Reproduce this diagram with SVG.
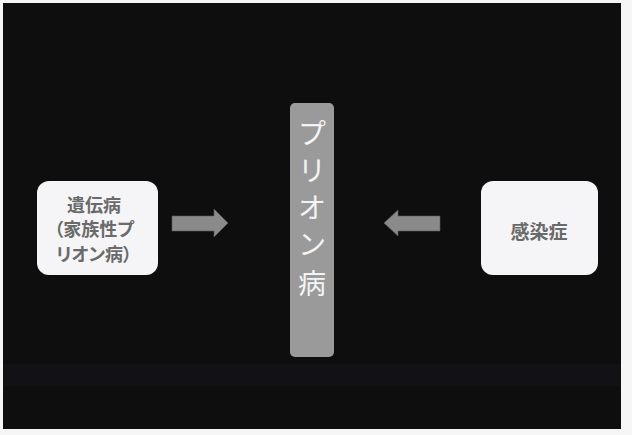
<svg xmlns="http://www.w3.org/2000/svg" width="632" height="435" viewBox="0 0 632 435">
  <style>
    .box { fill: #f5f5f7; }
    .boxtext { font-family: "Noto Sans CJK JP", "Noto Sans", sans-serif; font-size: 18px; font-weight: bold; fill: #6a6a6a; text-anchor: middle; font-feature-settings: "palt"; }
    .bar { fill: #9a9a9a; }
    .bartext { font-family: "Noto Sans CJK JP", "Noto Sans", sans-serif; font-size: 28px; fill: #f4f4f4; text-anchor: middle; }
    .arrow { fill: #8a8a8a; stroke: #5a5a5a; stroke-width: 0.6; }
  </style>
  <rect x="0" y="0" width="632" height="435" fill="#f6f6f6"/>
  <rect x="3" y="3" width="618" height="426" fill="#0e0e0f"/>
  <rect x="3" y="364" width="618" height="22" fill="#15151d" opacity="0.5"/>

  <g id="node-heredity">
    <rect class="box" x="37" y="181" width="121" height="94" rx="12" ry="12"/>
    <text class="boxtext" x="94" y="212">遺伝病</text>
    <text class="boxtext" x="94" y="236">（家族性プ</text>
    <text class="boxtext" x="94" y="261">リオン病）</text>
  </g>

  <g id="node-prion">
    <rect class="bar" x="290" y="103" width="44" height="254" rx="5" ry="5"/>
    <text class="bartext" x="312" y="144">プ</text>
    <text class="bartext" x="312" y="181">リ</text>
    <text class="bartext" x="312" y="218">オ</text>
    <text class="bartext" x="312" y="255">ン</text>
    <text class="bartext" x="312" y="294">病</text>
  </g>

  <g id="node-infection">
    <rect class="box" x="481" y="181" width="117" height="94" rx="12" ry="12"/>
    <text class="boxtext" x="539" y="239" style="font-size:19px">感染症</text>
  </g>

  <g id="connectors">
    <polygon class="arrow" points="172,216 214,216 214,209 228,223 214,237 214,231 172,231"/>
    <polygon class="arrow" points="440,216 398,216 398,210 384,223 398,236 398,231 440,231"/>
  </g>
</svg>
